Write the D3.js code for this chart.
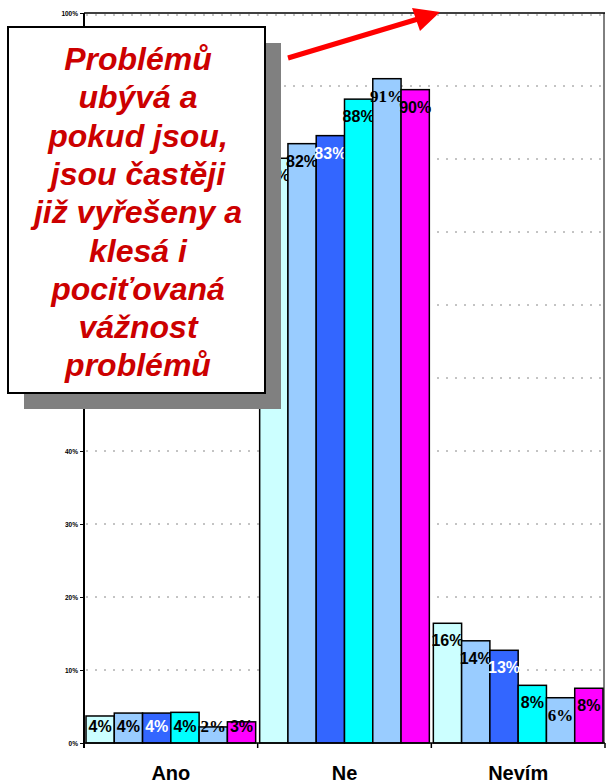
<!DOCTYPE html>
<html lang="cs">
<head>
<meta charset="utf-8">
<title>Problémy</title>
<script src="https://d3js.org/d3.v7.min.js"></script>
<style>
  body { margin: 0; background: #fff; }
  svg { display: block; font-family: "Liberation Sans", Arial, sans-serif; }
  .ytick { font-size: 6.5px; font-weight: bold; }
  .cat { font-size: 20px; font-weight: bold; }
  .lbl { font-size: 16px; font-weight: bold; }
  .note { font-size: 32px; font-weight: bold; font-style: italic; fill: #cc0000; }
</style>
</head>
<body>
<div id="viz"></div>
<script>
// data (percent)
var categories = ["Ano", "Ne", "Nevím"];
var series = ["s1", "s2", "s3", "s4", "s5", "s6"];
var valuesAno   = [3.7, 4.1, 4.1, 4.2, 2.2, 2.9];
var valuesNe    = [80.1, 82.1, 83.2, 88.2, 91.0, 89.5];
var valuesNevim = [16.4, 14.0, 12.7, 7.9, 6.2, 7.5];
var labelsAno   = ["4%", "4%", "4%", "4%", "2%", "3%"];
var labelsNe    = ["80%", "82%", "83%", "88%", "91%", "90%"];
var labelsNevim = ["16%", "14%", "13%", "8%", "6%", "8%"];
var yTicks = [0, 10, 20, 30, 40, 50, 60, 70, 80, 90, 100];
var noteLines = ["Problémů", "ubývá a", "pokud jsou,", "jsou častěji",
                 "již vyřešeny a", "klesá i", "pociťovaná", "vážnost", "problémů"];

var colors = ["#ccffff", "#99ccff", "#3366ff", "#00ffff", "#99ccff", "#ff00ff"];
var labelColors = ["#000", "#000", "#fff", "#000", "#000", "#000"];

var W = 606, H = 784;
var pLeft = 84, pRight = 605, pTop = 13, pBottom = 743;

var svg = d3.select("#viz").append("svg")
    .attr("width", W).attr("height", H);

var y = d3.scaleLinear().domain([0, 100]).range([pBottom, pTop]);
var x0 = d3.scaleBand().domain(categories).range([pLeft, pRight]);
var x1 = d3.scaleBand().domain(series).range([2, x0.bandwidth() - 2]);

var rows = [
  { cat: "Ano", vals: valuesAno, labels: labelsAno },
  { cat: "Ne", vals: valuesNe, labels: labelsNe },
  { cat: "Nevím", vals: valuesNevim, labels: labelsNevim }
];

// gridlines (dotted)
svg.append("g").selectAll("line")
  .data(yTicks.filter(function(d) { return d > 0; }))
  .enter().append("line")
    .attr("x1", pLeft + 2).attr("x2", pRight)
    .attr("y1", function(d) { return y(d) + (d == 100 ? 2 : 0); })
    .attr("y2", function(d) { return y(d) + (d == 100 ? 2 : 0); })
    .attr("stroke", "#888").attr("stroke-width", 1)
    .attr("stroke-dasharray", "2,7");

// frame top + right
svg.append("line").attr("x1", pLeft).attr("x2", pRight).attr("y1", y(100)).attr("y2", y(100))
    .attr("stroke", "#000").attr("stroke-width", 1.5);
svg.append("line").attr("x1", pRight - 1).attr("x2", pRight - 1).attr("y1", y(100)).attr("y2", pBottom)
    .attr("stroke", "#000").attr("stroke-width", 1);

// bars
var groups = svg.append("g").selectAll("g")
  .data(rows).enter().append("g")
    .attr("transform", function(d) { return "translate(" + x0(d.cat) + ",0)"; });

var cells = groups.selectAll("g")
  .data(function(d) {
    return series.map(function(s, i) { return { key: s, i: i, value: d.vals[i], label: d.labels[i] }; });
  })
  .enter().append("g");

cells.append("rect")
    .attr("x", function(d) { return x1(d.key); })
    .attr("y", function(d) { return y(d.value); })
    .attr("width", x1.bandwidth())
    .attr("height", function(d) { return pBottom - y(d.value); })
    .attr("fill", function(d) { return colors[d.i]; })
    .attr("stroke", "#000").attr("stroke-width", 1.5);

cells.append("text")
    .attr("class", "lbl")
    .attr("x", function(d) { return x1(d.key) + x1.bandwidth() / 2; })
    .attr("y", function(d) { return Math.min(y(d.value) + 17, 726) + 6; })
    .attr("text-anchor", "middle")
    .attr("fill", function(d) { return labelColors[d.i]; })
    .style("font-family", function(d) { return d.i == 4 ? "'Liberation Serif', 'Times New Roman', serif" : null; })
    .style("font-size", function(d) { return d.i == 4 ? "17px" : null; })
    .text(function(d) { return d.label; });

// y axis
var yAxis = svg.append("g")
    .attr("transform", "translate(" + pLeft + ",0)")
    .call(d3.axisLeft(y).tickValues(yTicks).tickSize(4).tickPadding(2)
      .tickFormat(function(d) { return d + "%"; }));
yAxis.attr("font-family", null).attr("font-size", null);
yAxis.select(".domain").attr("stroke-width", 2).attr("d", "M0," + pTop + "V" + (pBottom + 5));
yAxis.selectAll("text").attr("class", "ytick");

// x axis
var xAxis = svg.append("g")
    .attr("transform", "translate(0," + pBottom + ")")
    .call(d3.axisBottom(x0).tickSize(0).tickPadding(23));
xAxis.attr("font-family", null).attr("font-size", null);
xAxis.select(".domain").attr("stroke-width", 1.5).attr("d", "M" + pLeft + ",0H" + pRight);
xAxis.selectAll("text").attr("class", "cat");
svg.append("g").selectAll("line")
  .data(categories.map(function(c) { return x0(c); }).concat([pRight]))
  .enter().append("line")
    .attr("x1", function(d) { return d; }).attr("x2", function(d) { return d; })
    .attr("y1", pBottom).attr("y2", pBottom + 5)
    .attr("stroke", "#000").attr("stroke-width", 1.5);

// note box with shadow
svg.append("rect").attr("x", 24).attr("y", 43).attr("width", 257).attr("height", 366).attr("fill", "#808080");
svg.append("rect").attr("x", 8).attr("y", 27).attr("width", 257).attr("height", 366)
    .attr("fill", "#fff").attr("stroke", "#000").attr("stroke-width", 2);
svg.append("g").selectAll("text")
  .data(noteLines).enter().append("text")
    .attr("class", "note")
    .attr("x", 138)
    .attr("y", function(d, i) { return 70 + i * 38.3; })
    .attr("text-anchor", "middle")
    .text(function(d) { return d; });

// red arrow
svg.append("line").attr("x1", 288).attr("y1", 58).attr("x2", 418).attr("y2", 19)
    .attr("stroke", "#ff0000").attr("stroke-width", 5);
svg.append("path").attr("d", "M440,12 L412,8 L420,31 Z").attr("fill", "#ff0000");
</script>
</body>
</html>
